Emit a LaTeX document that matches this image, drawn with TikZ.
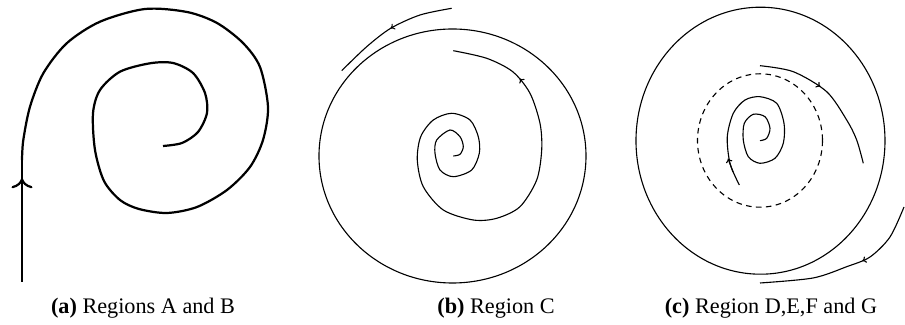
\documentclass[tikz,border=0pt]{standalone}
\usepackage{fontspec}
\setmainfont{Liberation Serif}
\usepackage{tikz}
\usetikzlibrary{arrows.meta, decorations.markings}

\tikzset{
  orbit/.style = {line width=0.5pt},
  orbitA/.style = {line width=1pt},
  bigtip/.style = {postaction={decorate}, decoration={markings,
      mark=at position #1 with {\arrow{Computer Modern Rightarrow[width=9.5pt,length=4.5pt]}}}},
  smalltip/.style = {postaction={decorate}, decoration={markings,
      mark=at position #1 with {\arrow{Computer Modern Rightarrow[width=3pt,length=1.8pt]}}}},
  backtip/.style = {postaction={decorate}, decoration={markings,
      mark=at position #1 with {\arrowreversed{Computer Modern Rightarrow[width=3pt,length=1.8pt]}}}},
  caption/.style = {font=\normalsize, inner sep=0pt}
}

\begin{document}
\begin{tikzpicture}[x=0.45pt, y=-0.45pt]
  \useasboundingbox (0,0) rectangle (905,325);

  % (a)
  \draw[orbitA, bigtip=0.85] (22,282) -- (22,160);
  \draw[orbitA] plot[smooth] coordinates {(22,160) (23.3,140) (30,106.7) (43.3,73.3)
      (66.7,43.3) (100,21.7) (145,9) (187,12) (217,23) (243,43) (260,67) (268,107)
      (263,140) (250,167) (227,190) (197,207) (167,213) (139,209) (120,200) (104,181)
      (95,150) (93,113.3) (100,90) (120,71.7) (150,63.3) (173,63) (193,73) (205,93)
      (207,113) (198,132) (182,143) (163,146)};
  \node[caption] (capA) at (143,308) {\textbf{(a)} Regions A and B};

  % (b)
  \draw[orbit] (452.5,156) ellipse [x radius=133.5, y radius=127];
  \draw[orbit, smalltip=0.5] plot[smooth] coordinates {(451.7,8.3) (420,15) (390.7,28.3)
      (366.7,46.7) (341.7,70.7)};
  \draw[orbit, backtip=0.12] plot[smooth] coordinates {(453.3,50.7) (486.7,58.3)
      (512.7,71.7) (530,93.3) (540,123.3) (541.7,150) (536.7,180) (520,206.7)
      (496.7,218.3) (473.3,220) (443.3,210) (423.3,186.7) (417.3,160) (420.7,136.7)
      (433.3,120) (451.7,113.3) (470,120) (478.3,136.7) (479.3,153.3) (471.7,170)
      (453.3,176.7) (440,170) (435,153.3) (436.7,140) (450,130) (460,136.7)
      (463.3,146.7) (460,154.3) (453.3,156)};
  \node[caption] (capB) at (496,308) {\textbf{(b)} Region C};

  % (c)
  \draw[orbit] (760.5,140.7) ellipse [x radius=124.5, y radius=133.5];
  \draw[orbit, dash pattern=on 2.5pt off 2pt] (760,140.5) ellipse [x radius=62.5, y radius=66.7];
  \draw[orbit, smalltip=0.4] plot[smooth] coordinates {(904,207) (890,237) (870,257)
      (846.7,266.7) (813,278) (760,283)};
  \draw[orbit, smalltip=0.42] plot[smooth] coordinates {(760,65.7) (793.3,71.7)
      (826.7,91.7) (846.7,120) (856.7,140) (863.3,163.3)};
  \draw[orbit] plot[smooth] coordinates {(739.3,185) (730,163.3) (727.3,136.7)
      (733.3,113.3) (745,100) (760,96.7) (776.7,103.3) (784,123.3) (783.3,143.3)
      (775,158.3) (760,163.3) (748.3,156.7) (743.3,140) (744.3,123.3) (753.3,114.3)
      (765,116.7) (770,128.3) (766.7,138.3) (760,140.7)};
  \draw[orbit, -{Computer Modern Rightarrow[width=3pt,length=1.8pt]}] (733,172) -- (728,158.5);
  \node[caption] (capC) at (771,308) {\textbf{(c)} Region D,E,F and G};
\end{tikzpicture}
\end{document}
